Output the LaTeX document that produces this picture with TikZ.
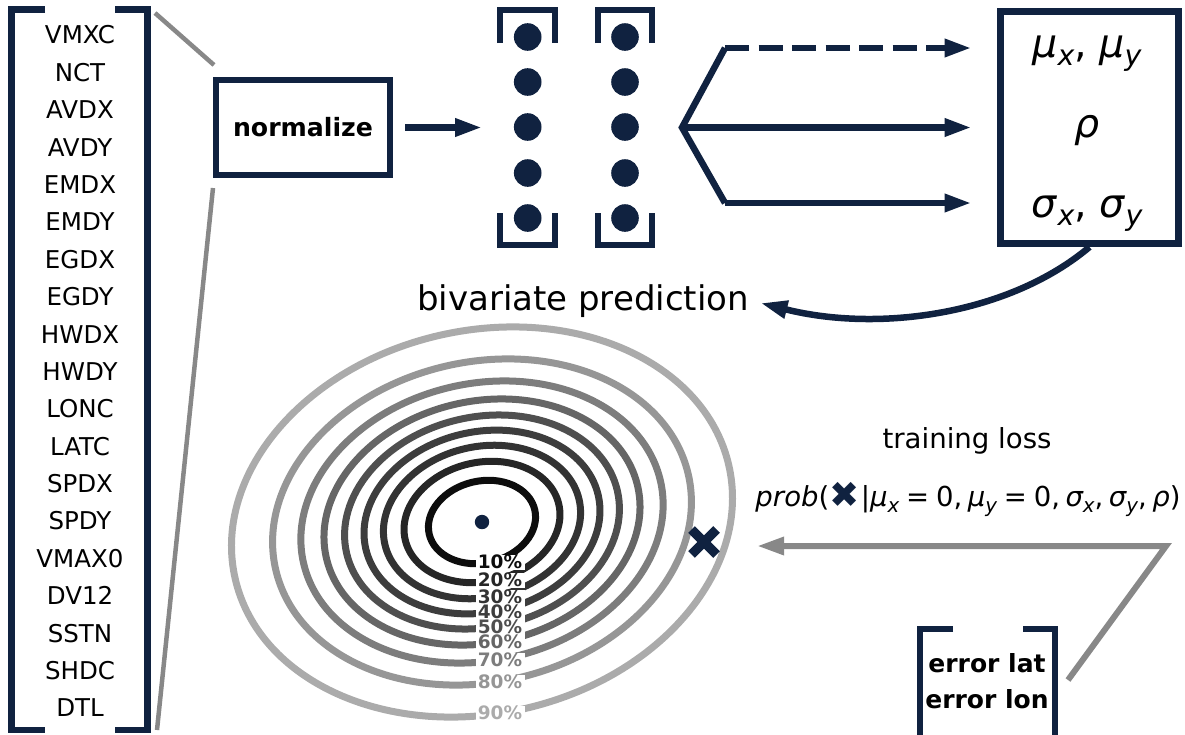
\documentclass[tikz,border=0pt]{standalone}
\usepackage{fontspec}
\setmainfont{DejaVu Sans}[ItalicFont={DejaVu Sans Oblique},BoldFont={DejaVu Sans Bold}]
\usepackage{graphicx}
\usetikzlibrary{arrows.meta}
\definecolor{navy}{RGB}{16,34,64}
\definecolor{linkgray}{RGB}{136,136,136}
\newcommand\lowsub[1]{\raisebox{-0.22em}{\scalebox{0.72}{\itshape #1}}}
\newcommand\fsz[1]{\fontsize{#1}{#1}\selectfont}
\begin{document}
\begin{tikzpicture}[x=1pt,y=-1pt,
  bracket/.style={navy,line width=6.5pt,line cap=butt,line join=miter},
  feat/.style={font=\fsz{24.5},inner sep=0pt},
  link/.style={linkgray,line width=4.5pt},
  flow/.style={navy,line width=6.5pt,-{Triangle[length=27pt,width=17pt]}},
  lossflow/.style={linkgray,line width=6pt,line join=miter,-{Triangle[length=27pt,width=17pt]}},
  dot/.style={circle,fill=navy,inner sep=0pt,minimum size=27.6pt},
  box/.style={draw=navy,rectangle,inner sep=0pt},
  contour/.style={line width=7pt},
  pct/.style={font=\bfseries\fsz{18.5},inner sep=0pt},
  pctgap/.style={fill=white,inner sep=0pt,minimum width=49pt,minimum height=15pt},
  mathtxt/.style={anchor=base,font=\fsz{39.5}},
]
\useasboundingbox (0,0) rectangle (1185,734);

% input feature vector
\foreach \t [count=\i] in {VMXC,NCT,AVDX,AVDY,EMDX,EMDY,EGDX,EGDY,HWDX,HWDY,LONC,LATC,SPDX,SPDY,VMAX0,DV12,SSTN,SHDC,DTL}
  \node[feat] (f\i) at (80,{35+37.39*(\i-1)}) {\t};
\draw[bracket] (45,9.7) -- (11.7,9.7) -- (11.7,730) -- (45,730);
\draw[bracket] (115,9.7) -- (147.5,9.7) -- (147.5,730) -- (115,730);

% normalisation step
\node[box,line width=5.7pt,minimum width=174.3pt,minimum height=95.3pt,font=\bfseries\fsz{25.2}] (norm) at (303,127.5) {normalize};
\coordinate (fTop) at (155,13);
\coordinate (fBot) at (157,730);
\draw[link] (fTop) -- ([shift={(1,-12)}]norm.north west);
\draw[link] ([shift={(0,10)}]norm.south west) -- (fBot);

% hidden layers
\foreach \cx [count=\c] in {527.7,625} {
  \foreach \cy [count=\r] in {37,82,127,173,218}
    \node[dot] (d\c\r) at (\cx,\cy) {};
}
\foreach \l/\rr in {500/555,598/652} {
  \draw[bracket,line width=6pt] (\l,43) -- (\l,9.5) -- (\rr,9.5) -- (\rr,43);
  \draw[bracket,line width=6pt] (\l,213) -- (\l,245) -- (\rr,245) -- (\rr,213);
}
\coordinate (colIn) at (482,127.5);
\draw[flow] ([xshift=12pt]norm.east) -- (colIn);

% output parameters
\node[box,line width=7pt,minimum width=178pt,minimum height=232pt] (out) at (1089.5,127.5) {};
\node[mathtxt] (pmu) at (1087,57) {\textit{μ}\lowsub{x}, \textit{μ}\lowsub{y}};
\node[mathtxt] (prho) at (1087,137) {\textit{ρ}};
\node[mathtxt] (psig) at (1087,217) {\textit{σ}\lowsub{x}, \textit{σ}\lowsub{y}};

\coordinate (split) at (682,127.5);
\coordinate (cu) at (725,48);
\coordinate (cl) at (725,203);
\coordinate (tip) at ([xshift=-25.5pt]out.west);
\draw[navy,line width=6.5pt,line join=miter] (cu) -- (split) -- (cl);
\draw[flow,dash pattern=on 24pt off 9.5pt] (cu) -- (cu -| tip);
\draw[flow] (split) -- (tip);
\draw[flow] (cl) -- (cl -| tip);

% bivariate prediction
\node[anchor=base,font=\fsz{34}] (biv) at (583,310) {bivariate prediction};
\draw[flow] (out.south) .. controls (1010,314) and (880,333) .. ([xshift=8pt,yshift=-2.4pt]biv.east);

% probability contours
\coordinate (ctr) at (482,522);
\foreach \s/\g in {0.4590/0.05,0.6680/0.15,0.8446/0.20,1.0108/0.24,1.1774/0.31,1.3537/0.40,1.5518/0.49,1.7941/0.59,2.1460/0.67} {
  \definecolor{cc}{gray}{\g}
  \draw[contour,draw=cc,rotate around={13:(ctr)}] (ctr) ellipse [x radius=118pt*\s, y radius=89.2pt*\s];
}
\foreach \p/\ly in {10/562,20/580,30/597,40/612,50/627,60/642,70/660,80/682,90/713}
  \node[pctgap] (gap\p) at (500,\ly) {};
\foreach \p/\ly/\g in {10/562/0.05,20/580/0.15,30/597/0.20,40/612/0.24,50/627/0.31,60/642/0.40,70/660/0.49,80/682/0.59,90/713/0.67} {
  \definecolor{cc}{gray}{\g}
  \node[pct,text=cc] (lab\p) at (500,\ly) {\p\%};
}
\node[dot,minimum size=14.4pt] (mean) at (ctr) {};

% observed error
\coordinate (xm) at (704,542);
\draw[navy,line width=9.5pt] ([shift={(-12.5,-12.5)}]xm) -- ([shift={(12.5,12.5)}]xm);
\draw[navy,line width=9.5pt] ([shift={(-12.5,12.5)}]xm) -- ([shift={(12.5,-12.5)}]xm);

% training loss
\node[anchor=base,font=\fsz{27.6}] (tl) at (967,448) {training loss};
\node[anchor=base,font=\fsz{27.5}] (prob) at (968,506) {{\itshape prob}(\raisebox{-0.05em}{\color{navy}\fsz{36}✖}\hspace{0.05em}|{\itshape μ}\lowsub{x}\hspace{0.25em}=\hspace{0.25em}0,\hspace{0.2em}{\itshape μ}\lowsub{y}\hspace{0.25em}=\hspace{0.25em}0,\hspace{0.2em}{\itshape σ}\lowsub{x},\hspace{0.2em}{\itshape σ}\lowsub{y},\hspace{0.2em}{\itshape ρ})};

% target vector
\draw[bracket] (953,629) -- (920,629) -- (920,745);
\draw[bracket] (1023,629) -- (1055,629) -- (1055,745);
\node[anchor=base,font=\bfseries\fsz{25}] (elat) at (987,672) {error lat};
\node[anchor=base,font=\bfseries\fsz{25}] (elon) at (987,708) {error lon};
\coordinate (lossStart) at (1068,680);
\coordinate (lossCorner) at (1166,546);
\draw[lossflow] (lossStart) -- (lossCorner) -- ([xshift=53pt,yshift=-4pt]xm);
\end{tikzpicture}
\end{document}
